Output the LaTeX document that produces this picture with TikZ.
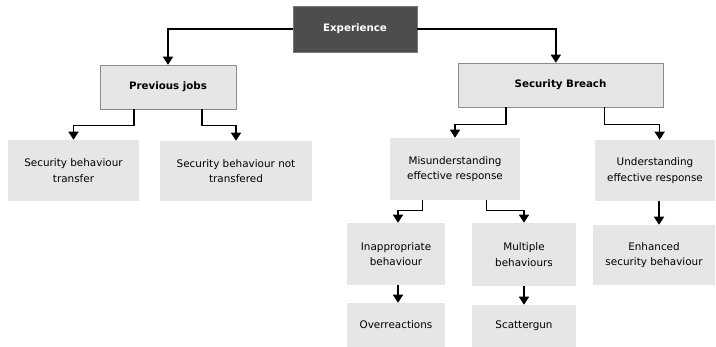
\documentclass[tikz,border=0pt]{standalone}
\usepackage{fontspec}
\setmainfont{DejaVu Sans}
\usetikzlibrary{arrows.meta,calc}

\begin{document}
\begin{tikzpicture}[x=0.75pt,y=0.75pt,yscale=-1,xscale=1,
  every node/.style={font=\fontsize{7.8}{11.5}\selectfont, align=center, inner sep=0.75pt},
  darkbox/.style={draw={rgb, 255:red, 120; green, 120; blue, 120 }, fill={rgb, 255:red, 77; green, 77; blue, 77 }, text=white, font=\fontsize{7.7}{11}\selectfont\bfseries},
  headbox/.style={draw={rgb, 255:red, 140; green, 140; blue, 140 }, fill={rgb, 255:red, 230; green, 230; blue, 230 }, font=\fontsize{7.7}{11}\selectfont\bfseries},
  leafbox/.style={fill={rgb, 255:red, 230; green, 230; blue, 230 }},
  arr/.style={line width=1.1pt, -{Triangle[length=6pt,width=7.5pt]}}
]
\useasboundingbox (0,0) rectangle (716,346);

%Shape: Rectangle [Experience]
\node [darkbox, minimum width=93pt, minimum height=34.5pt] (exp) at (355,29) {Experience};
%Shape: Rectangle [Previous jobs]
\node [headbox, minimum width=102pt, minimum height=33pt] (prev) at (168,87) {Previous jobs};
%Shape: Rectangle [Security Breach]
\node [headbox, minimum width=153.75pt, minimum height=33pt] (breach) at (560.5,85) {Security Breach};

%Shape: Rectangle [leaves under Previous jobs]
\node [leafbox, minimum width=98.25pt, minimum height=45.75pt] (transfer) at (73.5,170.5) {Security behaviour\\transfer};
\node [leafbox, minimum width=114pt, minimum height=45pt] (nottransfer) at (236,171) {Security behaviour not\\transfered};

%Shape: Rectangle [responses]
\node [leafbox, minimum width=97.5pt, minimum height=46.5pt] (misund) at (455,169) {Misunderstanding\\effective response};
\node [leafbox, minimum width=90pt, minimum height=45.75pt] (und) at (655,170.5) {Understanding\\effective response};

%Shape: Rectangle [behaviours]
\node [leafbox, minimum width=73.5pt, minimum height=46.5pt] (inapp) at (396,254) {Inappropriate\\behaviour};
\node [leafbox, minimum width=78pt, minimum height=47.25pt] (multi) at (524,254.5) {Multiple\\behaviours};
\node [leafbox, minimum width=91.5pt, minimum height=45pt] (enh) at (654,255) {Enhanced\\security behaviour};

%Shape: Rectangle [bottom row]
\node [leafbox, minimum width=73.5pt, minimum height=33pt] (over) at (396,325) {Overreactions};
\node [leafbox, minimum width=78pt, minimum height=31.5pt] (scatter) at (524,326) {Scattergun};

%Connectors
\draw [arr] (exp.west) -| (prev.north);
\draw [arr] (exp.east) -| ([xshift=-3.5pt]breach.north);

\draw [arr] ($(prev.south west)!0.25!(prev.south east)$) -- ++(0,16) -| (transfer.north);
\draw [arr] ($(prev.south west)!0.75!(prev.south east)$) -- ++(0,16) -| (nottransfer.north);

\draw [arr] ($(breach.south west)!0.235!(breach.south east)$) -- ++(0,17) -| (misund.north);
\draw [arr] ($(breach.south west)!0.715!(breach.south east)$) -- ++(0,17) -| ([xshift=3.5pt]und.north);

\draw [arr] ($(misund.south west)!0.25!(misund.south east)$) -- ++(0,10) -| ([xshift=1.5pt]inapp.north);
\draw [arr] ($(misund.south west)!0.74!(misund.south east)$) -- ++(0,10) -| (multi.north);
\draw [arr] ([xshift=3pt]und.south) -- ([xshift=3pt]und.south |- enh.north);

\draw [arr] ([xshift=1.5pt]inapp.south) -- ([xshift=1.5pt]inapp.south |- over.north);
\draw [arr] (multi.south) -- (scatter.north);

\end{tikzpicture}
\end{document}
